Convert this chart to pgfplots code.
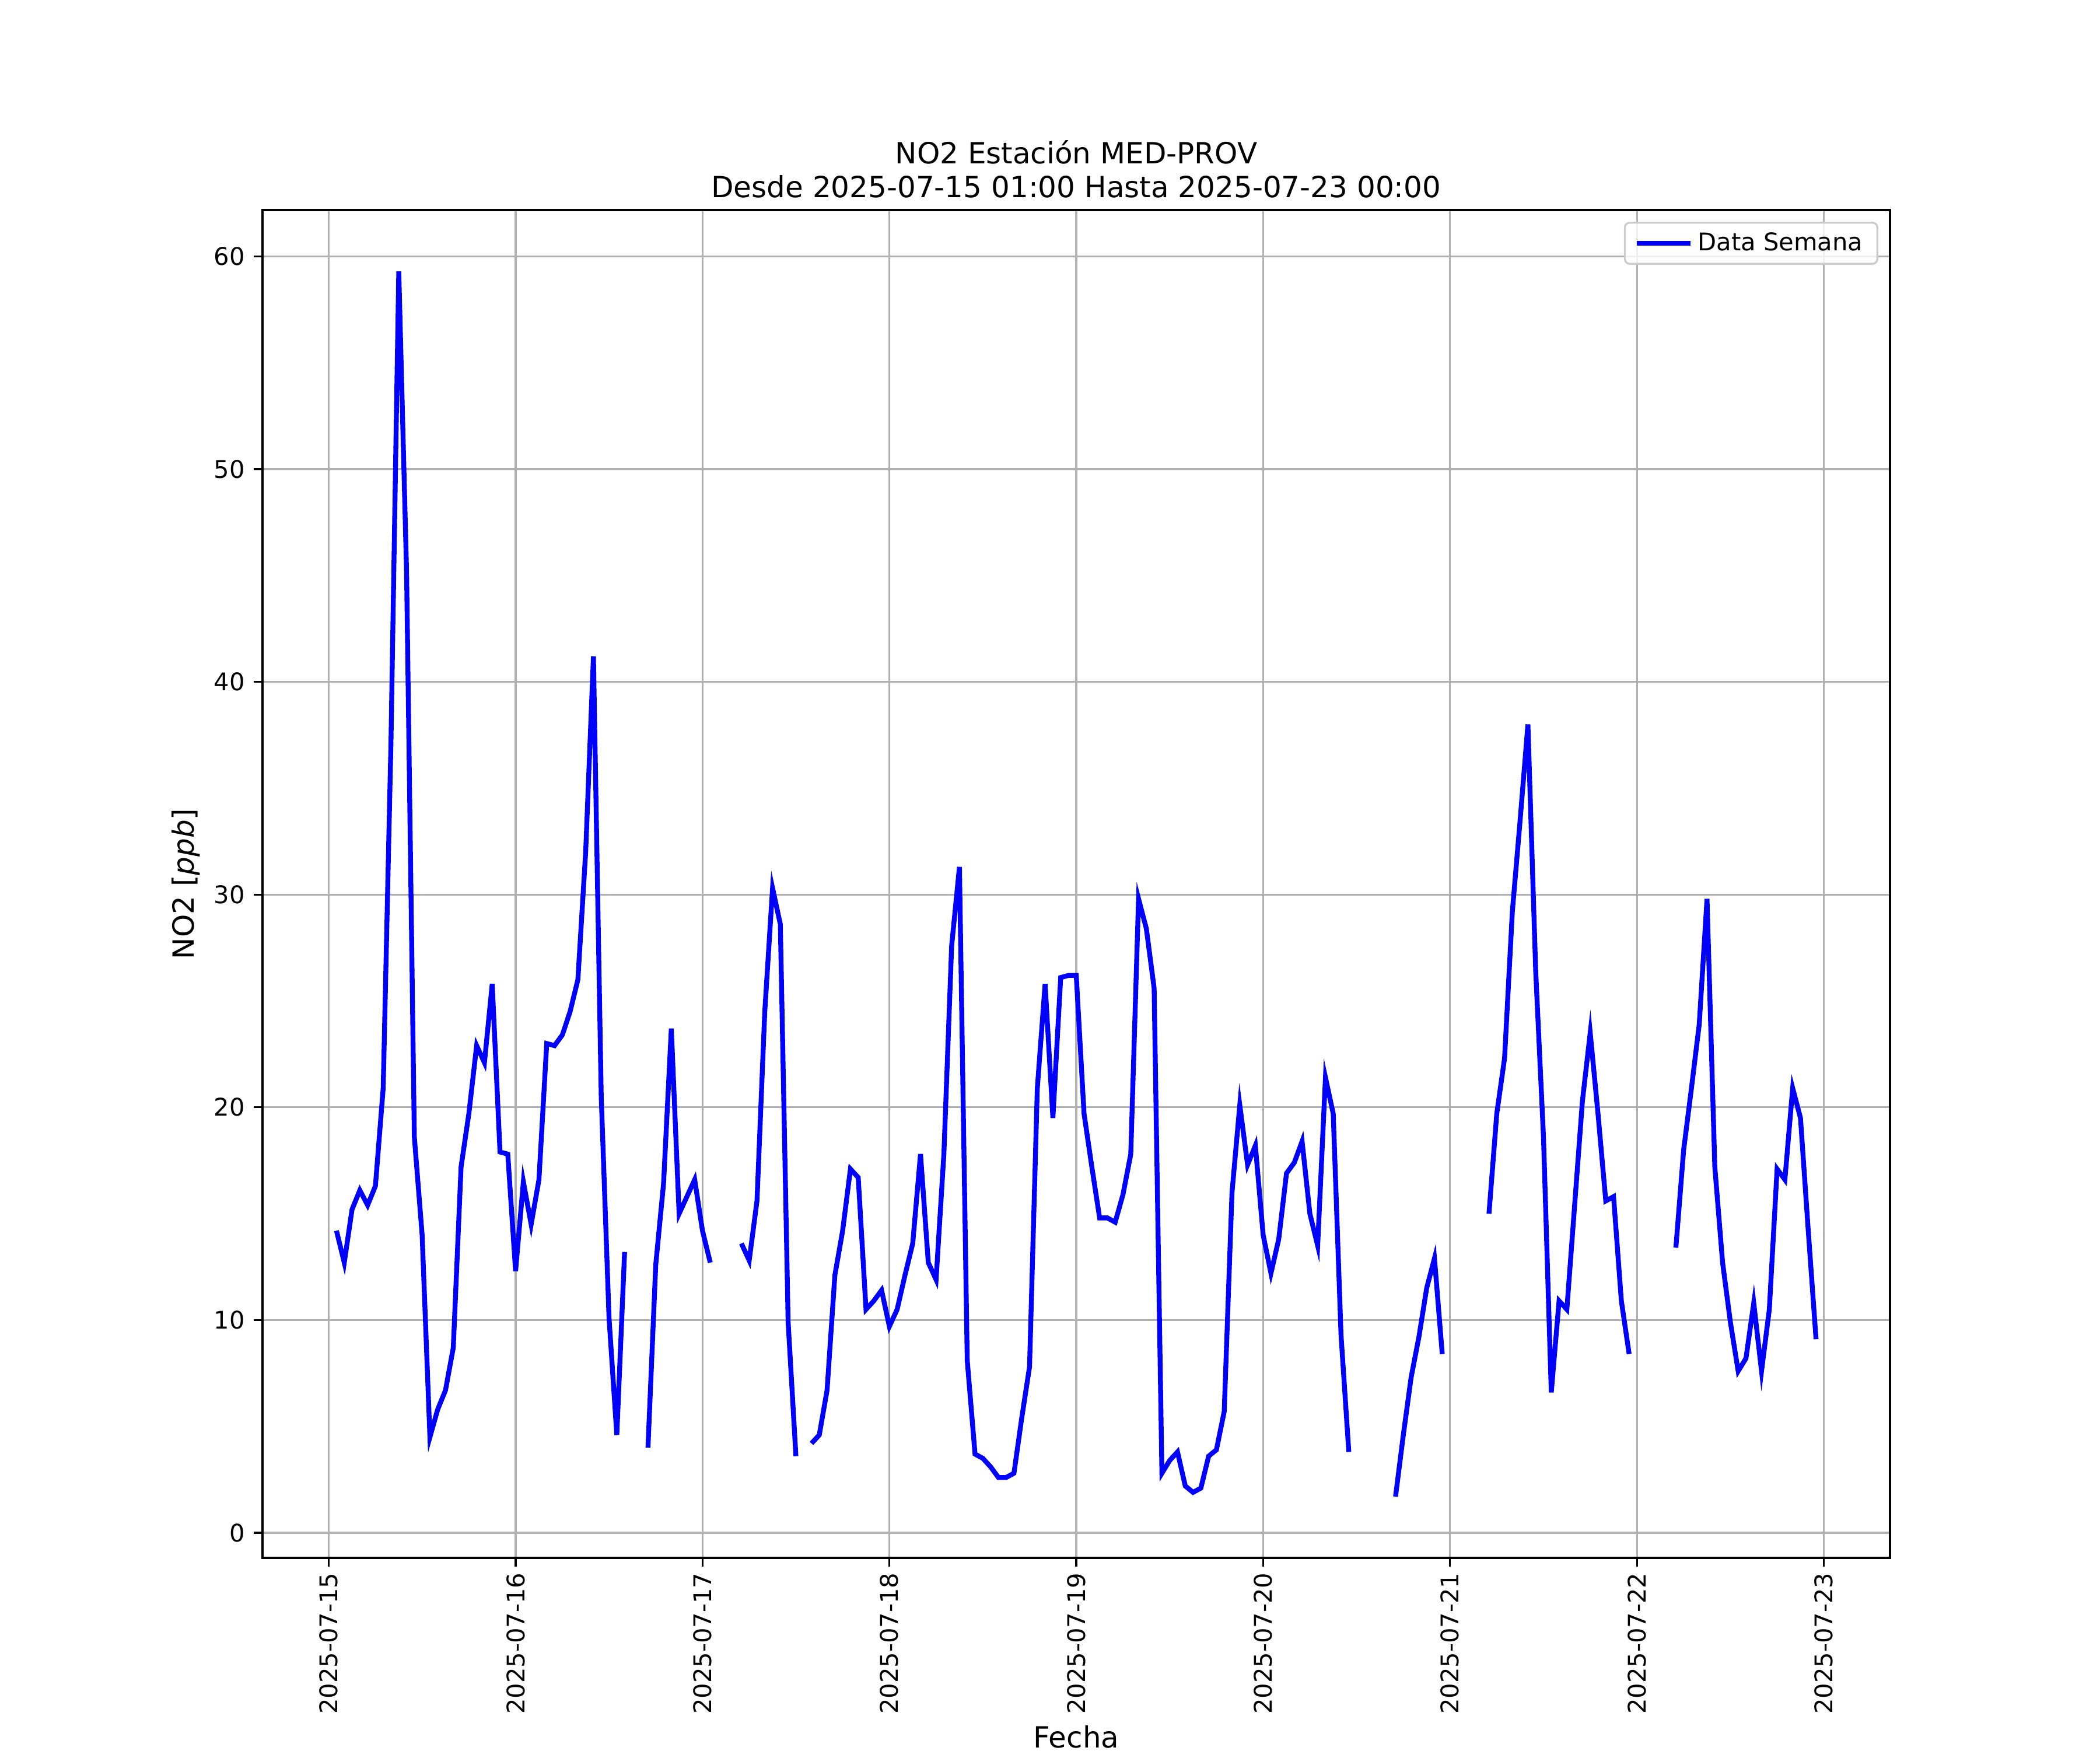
\documentclass[border=0pt]{standalone}
\usepackage{fontspec}
\setmainfont{DejaVu Sans}
\usepackage{pgfplots}
\pgfplotsset{compat=1.18}
\usepackage{pgfplotstable}

\definecolor{gridgray}{RGB}{176,176,176}
\definecolor{legedge}{RGB}{204,204,204}

% NO2 hourly, hours counted from 2025-07-15 00:00
\pgfplotstableread{
h v
1 14.2
2 12.7
3 15.2
4 16.1
5 15.4
6 16.3
7 20.9
8 37.2
9 59.3
10 45.2
11 18.6
12 14.0
13 4.5
14 5.8
15 6.7
16 8.7
17 17.2
18 19.7
19 22.9
20 22.1
21 25.8
22 17.9
23 17.8
24 12.3
25 16.5
26 14.5
27 16.6
28 23.0
29 22.9
30 23.4
31 24.5
32 26.0
33 32.0
34 41.2
35 20.5
36 10.1
37 4.6
38 13.2
39 nan
40 nan
41 4.0
42 12.6
43 16.4
44 23.7
45 15.0
46 15.8
47 16.6
48 14.2
49 12.7
50 nan
51 nan
52 nan
53 13.6
54 12.8
55 15.6
56 24.5
57 30.3
58 28.6
59 9.9
60 3.6
61 nan
62 4.2
63 4.6
64 6.7
65 12.1
66 14.2
67 17.1
68 16.7
69 10.5
70 10.9
71 11.4
72 9.7
73 10.5
74 12.1
75 13.6
76 17.8
77 12.7
78 11.9
79 17.8
80 27.6
81 31.3
82 8.1
83 3.7
84 3.5
85 3.1
86 2.6
87 2.6
88 2.8
89 5.4
90 7.8
91 20.9
92 25.8
93 19.5
94 26.1
95 26.2
96 26.2
97 19.7
98 17.2
99 14.8
100 14.8
101 14.6
102 15.9
103 17.8
104 29.8
105 28.4
106 25.6
107 2.8
108 3.4
109 3.8
110 2.2
111 1.9
112 2.1
113 3.6
114 3.9
115 5.7
116 16.0
117 20.1
118 17.3
119 18.2
120 14.0
121 12.2
122 13.8
123 16.9
124 17.4
125 18.4
126 15.0
127 13.5
128 21.4
129 19.7
130 9.3
131 3.8
132 nan
133 nan
134 nan
135 nan
136 nan
137 1.7
138 4.6
139 7.3
140 9.2
141 11.5
142 12.9
143 8.4
144 nan
145 nan
146 nan
147 nan
148 nan
149 15.0
150 19.7
151 22.3
152 29.2
153 33.5
154 38.0
155 26.4
156 18.6
157 6.6
158 10.9
159 10.5
160 15.4
161 20.3
162 23.5
163 19.7
164 15.6
165 15.8
166 10.9
167 8.4
168 nan
169 nan
170 nan
171 nan
172 nan
173 13.4
174 18.0
175 20.9
176 23.9
177 29.8
178 17.2
179 12.7
180 9.9
181 7.6
182 8.2
183 10.8
184 7.6
185 10.5
186 17.1
187 16.6
188 20.9
189 19.5
190 14.2
191 9.1
}\datatable

\begin{document}
\begin{tikzpicture}
\begin{axis}[
  at={(0,0)}, anchor=south west,
  scale only axis,
  width=669.6pt, height=554.4pt,
  xmin=-8.5, xmax=200.5,
  ymin=-1.18, ymax=62.18,
  unbounded coords=jump,
  xtick={0,24,...,192},
  xticklabels={2025-07-15,2025-07-16,2025-07-17,2025-07-18,2025-07-19,2025-07-20,2025-07-21,2025-07-22,2025-07-23},
  ytick={0,10,...,60},
  xtick pos=left, ytick pos=left,
  tick align=outside,
  major tick length=3.5pt,
  tick style={black, line width=0.8pt},
  axis line style={line width=0.8pt},
  grid=major,
  major grid style={gridgray, line width=0.8pt},
  /pgf/number format/assume math mode=true,
  ticklabel style={font=\fontsize{10}{12}\selectfont},
  xticklabel style={rotate=90, anchor=east, inner sep=2.5pt},
  yticklabel style={inner sep=3.5pt},
  xlabel={Fecha},
  ylabel={NO2 [\textit{ppb}]},
  label style={font=\fontsize{12}{14}\selectfont},
  xlabel style={at={(axis description cs:0.5,0)}, anchor=base, inner sep=0pt, yshift=-78pt},
  ylabel style={at={(axis description cs:0,0.5)}, anchor=center, inner sep=0pt, yshift=31.4pt},
  title={NO2 Estación MED-PROV\\Desde 2025-07-15 01:00 Hasta 2025-07-23 00:00},
  title style={align=center, font=\fontsize{12}{13.8}\selectfont, at={(0.5,1)}, anchor=south, inner sep=0pt, yshift=-1.2pt},
  legend style={at={(1,1)}, anchor=north east, xshift=-4.8pt, yshift=-4.8pt,
    draw=legedge, line width=0.8pt, rounded corners=2pt, fill=white, fill opacity=0.8, text opacity=1,
    font=\fontsize{10}{12}\selectfont, inner xsep=4pt, inner ysep=2pt},
  legend image code/.code={\draw[#1] (-1pt,0pt) -- (21pt,0pt);},
]
\addplot[blue, line width=2pt] table[x=h, y=v] {\datatable};
\addlegendentry{Data Semana}
\end{axis}
\pgfresetboundingbox
\path (-108pt,-79.2pt) rectangle (756pt,640.8pt);
\end{tikzpicture}
\end{document}
